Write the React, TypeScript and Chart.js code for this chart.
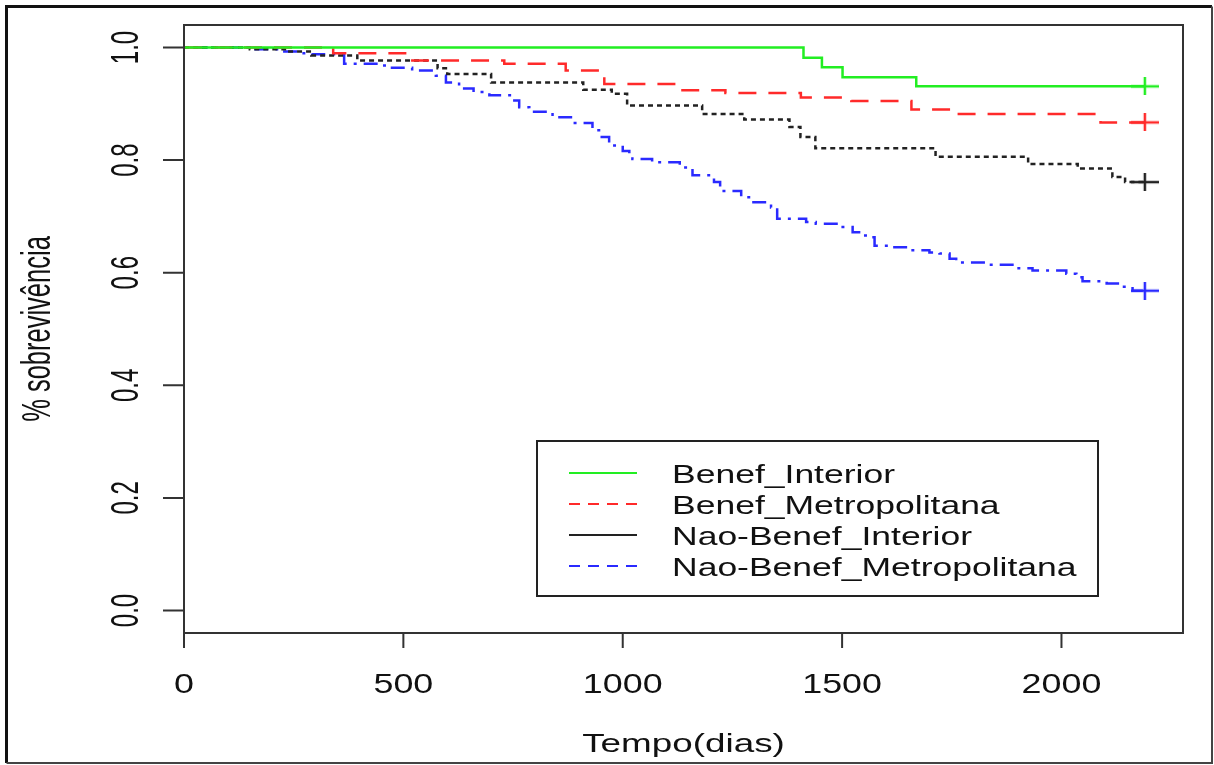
import React, { useEffect, useRef } from 'react';
import { Chart, registerables } from 'chart.js';

Chart.register(...registerables);

// ---------- data ----------
const seriesNames = ['Benef_Interior', 'Benef_Metropolitana', 'Nao-Benef_Interior', 'Nao-Benef_Metropolitana'];

const xTickValues = [0, 500, 1000, 1500, 2000];
const xTickLabels = ['0', '500', '1000', '1500', '2000'];
const yTickValues = [0, 0.2, 0.4, 0.6, 0.8, 1.0];
const yTickLabels = ['0.0', '0.2', '0.4', '0.6', '0.8', '1.0'];
const xTitle = 'Tempo(dias)';
const yTitle = '% sobrevivência';

const benefInteriorTimes = [0, 1412, 1454, 1501, 1669, 2190];
const benefInteriorSurv = [1.0, 0.982, 0.965, 0.947, 0.931, 0.931];

const benefMetroTimes = [0, 340, 513, 730, 870, 958, 1121, 1234, 1406, 1521, 1658, 1754, 2089, 2190];
const benefMetroSurv = [1.0, 0.990, 0.977, 0.971, 0.959, 0.935, 0.924, 0.919, 0.911, 0.905, 0.890, 0.882, 0.867, 0.867];

const naoBenefInteriorTimes = [0, 150, 230, 290, 395, 578, 600, 700, 910, 975, 1010, 1181, 1277, 1380, 1405, 1439, 1713, 1924, 2037, 2116, 2145, 2190];
const naoBenefInteriorSurv = [1.0, 0.997, 0.993, 0.986, 0.977, 0.963, 0.953, 0.938, 0.925, 0.918, 0.897, 0.882, 0.872, 0.859, 0.841, 0.821, 0.806, 0.793, 0.785, 0.770, 0.761, 0.761];

const naoBenefMetroTimes = [0, 148, 217, 255, 292, 365, 445, 468, 520, 574, 597, 627, 660, 696, 748, 764, 787, 840, 885, 931, 946, 969, 1000, 1015, 1022, 1067, 1130, 1159, 1208, 1222, 1270, 1292, 1338, 1352, 1418, 1440, 1494, 1524, 1545, 1562, 1574, 1608, 1653, 1699, 1722, 1745, 1760, 1836, 1897, 1934, 2011, 2034, 2048, 2103, 2132, 2162, 2190];
const naoBenefMetroSurv = [1.0, 0.997, 0.993, 0.990, 0.988, 0.971, 0.968, 0.964, 0.959, 0.950, 0.938, 0.927, 0.921, 0.915, 0.906, 0.894, 0.886, 0.876, 0.866, 0.853, 0.841, 0.826, 0.816, 0.808, 0.802, 0.796, 0.787, 0.773, 0.761, 0.745, 0.734, 0.725, 0.716, 0.696, 0.690, 0.687, 0.681, 0.672, 0.666, 0.663, 0.648, 0.645, 0.640, 0.636, 0.634, 0.625, 0.618, 0.614, 0.608, 0.604, 0.598, 0.592, 0.585, 0.581, 0.575, 0.568, 0.568];

// ---------- styles ----------
const FONT = '"Liberation Sans", Arial, Helvetica, sans-serif';
const colors = ['#22ee22', '#ff2a2a', '#222222', '#2a2aff'];
const dashes: number[][] = [[], [18, 12], [5, 4], [3, 7, 14, 7]];
const legendDashes: number[][] = [[], [11, 8], [], [11, 8]];

function makePlus(color: string) {
  const w = 28, h = 18;
  const c = document.createElement('canvas');
  c.width = w;
  c.height = h;
  const g = c.getContext('2d')!;
  g.strokeStyle = color;
  g.lineWidth = 2.5;
  g.beginPath();
  g.moveTo(0, h / 2);
  g.lineTo(w, h / 2);
  g.moveTo(w / 2, 0);
  g.lineTo(w / 2, h);
  g.stroke();
  return c;
}

function text(ctx: CanvasRenderingContext2D, s: string, x: number, y: number, size: number, stretch: number, align: CanvasTextAlign, rotate = false) {
  ctx.save();
  ctx.translate(x, y);
  if (rotate) {
    ctx.rotate(-Math.PI / 2);
    ctx.scale(1, stretch);
  } else {
    ctx.scale(stretch, 1);
  }
  ctx.font = `${size}px ${FONT}`;
  ctx.fillStyle = '#111';
  ctx.textAlign = align;
  ctx.textBaseline = 'alphabetic';
  ctx.fillText(s, 0, 0);
  ctx.restore();
}

const decorPlugin = {
  id: 'rdecor',
  afterDraw(chart: any) {
    const ctx: CanvasRenderingContext2D = chart.ctx;
    const { left, right, top, bottom } = chart.chartArea;
    const xs = chart.scales.x;
    const ys = chart.scales.y;
    ctx.save();
    // outer frame
    ctx.strokeStyle = '#111';
    ctx.lineWidth = 3;
    ctx.beginPath();
    ctx.moveTo(6.5, 763);
    ctx.lineTo(6.5, 6.5);
    ctx.lineTo(1212, 6.5);
    ctx.stroke();
    ctx.lineWidth = 2;
    ctx.strokeStyle = '#444';
    ctx.beginPath();
    ctx.moveTo(1212, 6.5);
    ctx.lineTo(1212, 763);
    ctx.lineTo(6.5, 763);
    ctx.stroke();
    // plot box
    ctx.strokeStyle = '#333';
    ctx.lineWidth = 2;
    ctx.strokeRect(left, top, right - left, bottom - top);
    // x ticks
    ctx.beginPath();
    xTickValues.forEach((v) => {
      const px = xs.getPixelForValue(v);
      ctx.moveTo(px, bottom);
      ctx.lineTo(px, bottom + 15);
    });
    // y ticks
    yTickValues.forEach((v) => {
      const py = ys.getPixelForValue(v);
      ctx.moveTo(left, py);
      ctx.lineTo(left - 21, py);
    });
    ctx.stroke();
    // tick labels
    xTickValues.forEach((v, i) => {
      text(ctx, xTickLabels[i], xs.getPixelForValue(v), 693, 28, 1.28, 'center');
    });
    yTickValues.forEach((v, i) => {
      text(ctx, yTickLabels[i], 138, ys.getPixelForValue(v), 24, 1.6, 'center', true);
    });
    // titles
    text(ctx, xTitle, (left + right) / 2, 752, 26.5, 1.39, 'center');
    text(ctx, yTitle, 50, (top + bottom) / 2, 25.5, 1.6, 'center', true);
    // legend
    const lx0 = 537, ly0 = 441, lx1 = 1098, ly1 = 596;
    ctx.strokeStyle = '#222';
    ctx.lineWidth = 2;
    ctx.setLineDash([]);
    ctx.strokeRect(lx0, ly0, lx1 - lx0, ly1 - ly0);
    const baselines = [483, 514, 545, 576];
    seriesNames.forEach((name, i) => {
      const yb = baselines[i];
      ctx.strokeStyle = colors[i];
      ctx.lineWidth = 2;
      ctx.setLineDash(legendDashes[i]);
      ctx.beginPath();
      ctx.moveTo(569, yb - 10);
      ctx.lineTo(637, yb - 10);
      ctx.stroke();
      ctx.setLineDash([]);
      text(ctx, name, 672, yb, 25, 1.42, 'left');
    });
    ctx.restore();
  },
};

function toPoints(t: number[], s: number[]) {
  return t.map((x, i) => ({ x, y: s[i] }));
}

export default function App() {
  const ref = useRef<HTMLCanvasElement>(null);
  useEffect(() => {
    const series = [
      toPoints(benefInteriorTimes, benefInteriorSurv),
      toPoints(benefMetroTimes, benefMetroSurv),
      toPoints(naoBenefInteriorTimes, naoBenefInteriorSurv),
      toPoints(naoBenefMetroTimes, naoBenefMetroSurv),
    ];
    const datasets = series.map((data, i) => {
      const plus = makePlus(colors[i]);
      const last = data.length - 1;
      return {
        label: seriesNames[i],
        data,
        stepped: true as const,
        borderColor: colors[i],
        borderWidth: 2.5,
        borderDash: dashes[i],
        fill: false,
        pointStyle: plus as any,
        pointRadius: (c: any) => (c.dataIndex === last ? 6 : 0),
        pointBorderWidth: 0,
      };
    });
    const chart = new Chart(ref.current!, {
      type: 'line',
      data: { datasets },
      options: {
        responsive: false,
        animation: false,
        events: [],
        layout: { padding: { left: 184, top: 25, right: 31, bottom: 132 } },
        scales: {
          x: { type: 'linear', min: 0, max: 2277, display: false },
          y: { type: 'linear', min: -0.04, max: 1.04, display: false },
        },
        plugins: { legend: { display: false }, tooltip: { enabled: false } },
      },
      plugins: [decorPlugin],
    });
    return () => chart.destroy();
  }, []);
  return (
    <div style={{ position: 'absolute', left: 0, top: 0, width: 1214, height: 765, background: '#fff' }}>
      <canvas ref={ref} width={1214} height={765} />
    </div>
  );
}
